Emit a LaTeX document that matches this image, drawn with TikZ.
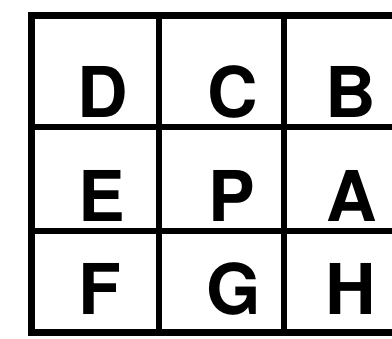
\documentclass[tikz,border=0pt]{standalone}
\usepackage{fontspec}
\setmainfont{TeX Gyre Heros}
\begin{document}
\begin{tikzpicture}[x=1pt,y=-1pt,
  outer/.style={line width=7pt,line cap=rect},
  inner/.style={line width=6pt},
  letter/.style={inner sep=0pt,anchor=base,font=\fontsize{70}{70}\selectfont\bfseries}]
\useasboundingbox (0,0) rectangle (392,339);
\clip (0,0) rectangle (392,339);
% outer frame (open on the right)
\draw[outer] (400,16) -- (31,16) -- (31,333) -- (400,333);
% inner lines
\draw[inner] (159,16) -- (159,333);
\draw[inner] (284,16) -- (284,333);
\draw[inner] (31,127) -- (400,127);
\draw[inner] (31,231) -- (400,231);
% letters
\node[letter] (D) at (103,118) {D};
\node[letter] (C) at (233,118) {C};
\node[letter] (B) at (351,118) {B};
\node[letter] (E) at (102,222) {E};
\node[letter] (P) at (232,222) {P};
\node[letter] (A) at (352,222) {A};
\node[letter] (F) at (100,315) {F};
\node[letter] (G) at (234,315) {G};
\node[letter] (H) at (351,315) {H};
\end{tikzpicture}
\end{document}
